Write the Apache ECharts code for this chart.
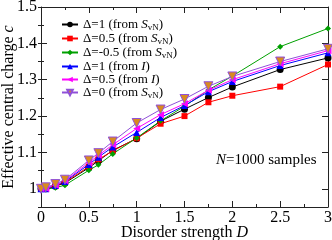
<!DOCTYPE html>
<html><head><meta charset="utf-8">
<script src="https://cdn.jsdelivr.net/npm/echarts@6/dist/echarts.min.js"></script>
<style>html,body{margin:0;padding:0;background:#fff}#c{width:332px;height:240px}</style>
</head><body><div id="c"></div>
<script>
const xValues = [0, 0.05, 0.15, 0.25, 0.5, 0.6, 0.75, 1, 1.25, 1.5, 1.75, 2, 2.5, 3];
const delta1SvN  = [1.000, 1.000, 1.007, 1.016, 1.058, 1.077, 1.106, 1.138, 1.186, 1.219, 1.251, 1.280, 1.328, 1.360];
const delta05SvN = [1.000, 1.001, 1.008, 1.018, 1.061, 1.081, 1.104, 1.139, 1.179, 1.200, 1.238, 1.256, 1.281, 1.342];
const deltaM05SvN= [1.000, 0.999, 1.003, 1.010, 1.051, 1.066, 1.096, 1.140, 1.187, 1.227, 1.272, 1.310, 1.391, 1.441];
const delta1I    = [1.000, 1.000, 1.009, 1.020, 1.067, 1.087, 1.115, 1.155, 1.196, 1.229, 1.267, 1.295, 1.339, 1.374];
const delta05I   = [1.000, 1.001, 1.010, 1.022, 1.072, 1.092, 1.121, 1.166, 1.204, 1.234, 1.271, 1.300, 1.344, 1.380];
const delta0SvN  = [1.000, 1.004, 1.013, 1.025, 1.078, 1.098, 1.130, 1.181, 1.218, 1.247, 1.282, 1.309, 1.350, 1.385];
const xTicks = [0, 0.5, 1, 1.5, 2, 2.5, 3];
const yTicks = [1, 1.1, 1.2, 1.3, 1.4, 1.5];
const seriesNames = ['Δ=1 (from SvN)', 'Δ=0.5 (from SvN)', 'Δ=-0.5 (from SvN)', 'Δ=1 (from I)', 'Δ=0.5 (from I)', 'Δ=0 (from SvN)'];
const legendRich = [
  '{n|Δ=1 (from }{i|S}{s|vN}{n|)}',
  '{n|Δ=0.5 (from }{i|S}{s|vN}{n|)}',
  '{n|Δ=-0.5 (from }{i|S}{s|vN}{n|)}',
  '{n|Δ=1 (from }{i|I}{n|)}',
  '{n|Δ=0.5 (from }{i|I}{n|)}',
  '{n|Δ=0 (from }{i|S}{s|vN}{n|)}'
];

const F = 'Liberation Serif';
const chart = echarts.init(document.getElementById('c'), null, {renderer: 'canvas'});
const axisLineStyle = {color: '#222', width: 1};
function mk(name, data, color, symbol, size, extra) {
  return Object.assign({
    name: name, type: 'line', xAxisIndex: 0, yAxisIndex: 0,
    data: xValues.map((x, i) => [x, data[i]]),
    symbol: symbol, symbolSize: size,
    lineStyle: {color: color, width: 1},
    itemStyle: {color: color},
    emphasis: {disabled: true}, animation: false
  }, extra || {});
}
const yBase = {type: 'value', min: 0.95, max: 1.5, interval: 0.05, splitLine: {show: false}};
const option = {
  animation: false,
  grid: {left: 41, right: 4, top: 7, bottom: 33, containLabel: false, outerBoundsMode: 'none'},
  title: {
    text: '{i|N}{n|=1000 samples}', left: 211, top: 148,
    textStyle: {fontWeight: 'normal', rich: {
      i: {fontFamily: F, fontSize: 15, fontStyle: 'italic', fontWeight: 'normal', color: '#000'},
      n: {fontFamily: F, fontSize: 15, fontWeight: 'normal', color: '#000'}
    }}
  },
  legend: {
    orient: 'vertical', left: 56, top: 13, itemGap: 0, itemWidth: 16, itemHeight: 7,
    data: seriesNames,
    formatter: function (name) { return legendRich[seriesNames.indexOf(name)]; },
    textStyle: {
      padding: [0, 0, 0, 0],
      rich: {
        n: {fontFamily: F, fontSize: 13, color: '#000', lineHeight: 15},
        i: {fontFamily: F, fontSize: 13, fontStyle: 'italic', color: '#000', lineHeight: 15},
        s: {fontFamily: F, fontSize: 9, color: '#000', lineHeight: 15, verticalAlign: 'bottom', padding: [4, 0, 0, 0]}
      }
    }
  },
  xAxis: [
    {type: 'value', position: 'bottom', min: 0, max: 3, interval: 0.5,
     name: '{n|Disorder strength }{i|D}', nameLocation: 'middle', nameGap: 18, nameMoveOverlap: false,
     nameTextStyle: {rich: {
       n: {fontFamily: F, fontSize: 16, color: '#000'},
       i: {fontFamily: F, fontSize: 16, fontStyle: 'italic', color: '#000'}}},
     axisLine: {onZero: false, lineStyle: axisLineStyle},
     axisTick: {inside: true, length: 6, lineStyle: axisLineStyle},
     minorTick: {show: true, splitNumber: 2, length: 3, lineStyle: axisLineStyle},
     axisLabel: {customValues: xTicks, fontFamily: F, fontSize: 16, color: '#000', margin: 3},
     splitLine: {show: false}, minorSplitLine: {show: false}},
    {type: 'value', position: 'top', min: 0, max: 3, interval: 0.5,
     axisLine: {onZero: false, lineStyle: axisLineStyle},
     axisTick: {inside: true, length: 6, lineStyle: axisLineStyle},
     minorTick: {show: true, splitNumber: 2, length: 3, lineStyle: axisLineStyle},
     axisLabel: {show: false}, splitLine: {show: false}}
  ],
  yAxis: [
    Object.assign({}, yBase, {position: 'left',
     name: '{n|Effective central charge }{i|c}', nameLocation: 'middle', nameGap: 24, nameRotate: 90, nameMoveOverlap: false,
     nameTextStyle: {rich: {
       n: {fontFamily: F, fontSize: 16, color: '#000'},
       i: {fontFamily: F, fontSize: 16, fontStyle: 'italic', color: '#000'}}},
     axisLine: {onZero: false, lineStyle: axisLineStyle},
     axisTick: {inside: true, length: 6, customValues: yTicks, lineStyle: axisLineStyle},
     axisLabel: {customValues: yTicks, fontFamily: F, fontSize: 16, color: '#000', margin: 4}}),
    Object.assign({}, yBase, {position: 'left',
     axisLine: {show: false}, axisLabel: {show: false},
     axisTick: {inside: true, length: 3, lineStyle: axisLineStyle}}),
    Object.assign({}, yBase, {position: 'right',
     axisLine: {onZero: false, lineStyle: axisLineStyle}, axisLabel: {show: false},
     axisTick: {inside: true, length: 6, customValues: yTicks, lineStyle: axisLineStyle}}),
    Object.assign({}, yBase, {position: 'right',
     axisLine: {show: false}, axisLabel: {show: false},
     axisTick: {inside: true, length: 3, lineStyle: axisLineStyle}})
  ],
  series: [
    mk(seriesNames[0], delta1SvN, '#000000', 'circle', 7),
    mk(seriesNames[1], delta05SvN, '#ff0000', 'rect', 6),
    mk(seriesNames[2], deltaM05SvN, '#00a000', 'diamond', 6),
    mk(seriesNames[3], delta1I, '#0000ff', 'triangle', 7),
    mk(seriesNames[4], delta05I, '#ff00ff', 'triangle', 7, {symbolRotate: 90}),
    mk(seriesNames[5], delta0SvN, '#9050d8', 'triangle', 9, {
      symbolRotate: 180,
      itemStyle: {color: '#d88a20', borderColor: '#9050d8', borderWidth: 1}})
  ]
};
chart.setOption(option);
</script></body></html>
